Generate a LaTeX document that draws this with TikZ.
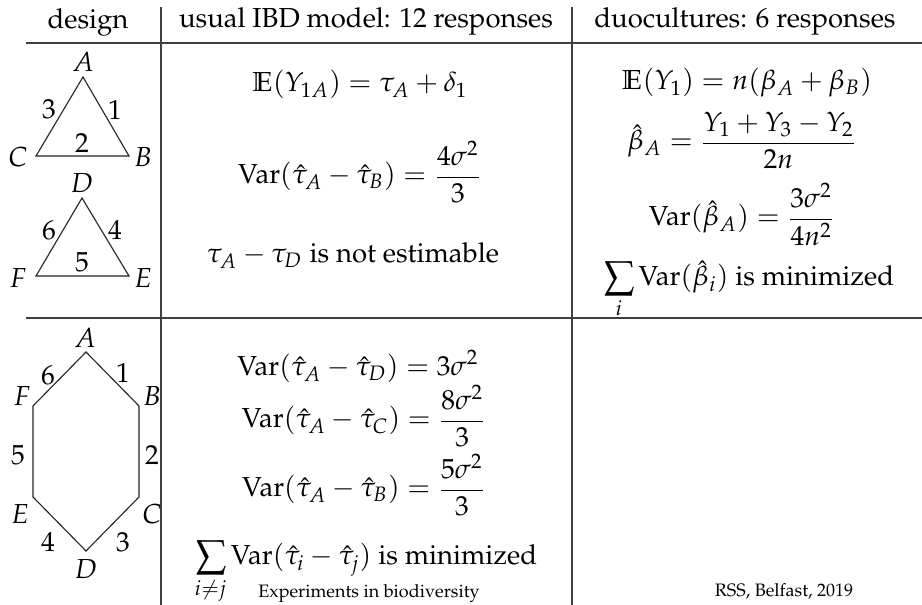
\documentclass[tikz,border=0pt]{standalone}
\usepackage[T1]{fontenc}
\usepackage{mathpazo}
\usepackage{amsmath}
\begin{document}
\begin{tikzpicture}[x=0.4pt,y=-0.4pt,
  txt/.style={inner sep=0pt, anchor=base, font=\fontsize{11}{13}\selectfont},
  lbl/.style={inner sep=0pt, anchor=center, font=\fontsize{11}{13}\selectfont},
  foot/.style={inner sep=0pt, anchor=base, font=\fontsize{7.2}{8}\selectfont},
  rule/.style={line width=0.5pt, black!75},
  outline/.style={line width=0.45pt, black!85, line join=miter}]
\useasboundingbox (0,0) rectangle (922,605);
\fill[white] (0,0) rectangle (922,605);
% table rules
\coordinate (h1l) at (26,43); \coordinate (h1r) at (922,43);
\coordinate (h2l) at (26,318); \coordinate (h2r) at (922,318);
\coordinate (v1t) at (161,7); \coordinate (v1b) at (161,605);
\coordinate (v2t) at (572,7); \coordinate (v2b) at (572,605);
\draw[rule] (h1l) -- (h1r);
\draw[rule] (h2l) -- (h2r);
\draw[rule] (v1t) -- (v1b);
\draw[rule] (v2t) -- (v2b);
% headers
\node[txt] (hd1) at (88,29) {design};
\node[txt] (hd2) at (366,28) {usual IBD model: 12 responses};
\node[txt] (hd3) at (745,28) {duocultures: 6 responses};
% triangle 1
\coordinate (tA) at (83,77); \coordinate (tB) at (129,156); \coordinate (tC) at (36,156);
\draw[outline] (tA) -- (tB) -- (tC) -- cycle;
\node[lbl] (lA) at (83,62) {$A$};
\node[lbl] (l3) at (49,109) {$3$};
\node[lbl] (l1) at (115,110) {$1$};
\node[lbl] (l2) at (82,143) {$2$};
\node[lbl] (lC) at (18,157) {$C$};
\node[lbl] (lB) at (143,157) {$B$};
% triangle 2
\coordinate (tD) at (82,198); \coordinate (tE) at (129,276); \coordinate (tF) at (36,276);
\draw[outline] (tD) -- (tE) -- (tF) -- cycle;
\node[lbl] (lD) at (82,183) {$D$};
\node[lbl] (l6) at (49,230) {$6$};
\node[lbl] (l4) at (115,230) {$4$};
\node[lbl] (l5) at (82,262) {$5$};
\node[lbl] (lF) at (18,278) {$F$};
\node[lbl] (lE) at (143,278) {$E$};
% hexagon
\coordinate (xA) at (86,352); \coordinate (xB) at (139,406); \coordinate (xC) at (139,497);
\coordinate (xD) at (86,551); \coordinate (xE) at (33,497); \coordinate (xF) at (33,406);
\draw[outline] (xA) -- (xB) -- (xC) -- (xD) -- (xE) -- (xF) -- cycle;
\node[lbl] (hA) at (85,338) {$A$};
\node[lbl] (h6) at (48,375) {$6$};
\node[lbl] (h1) at (123,373) {$1$};
\node[lbl] (hF) at (22,396) {$F$};
\node[lbl] (hB) at (152,396) {$B$};
\node[lbl] (h5) at (18,455) {$5$};
\node[lbl] (h2) at (152,455) {$2$};
\node[lbl] (hE) at (20,514) {$E$};
\node[lbl] (hC) at (152,514) {$C$};
\node[lbl] (h4) at (48,542) {$4$};
\node[lbl] (h3) at (123,542) {$3$};
\node[lbl] (hD) at (86,569) {$D$};
% column 2 top
\node[txt] (m1) at (360,92) {$\displaystyle \mathbb{E}(Y_{1A}) = \tau_A + \delta_1$};
\node[txt] (m2) at (360,184) {$\displaystyle \mathrm{Var}(\hat\tau_A - \hat\tau_B) = \frac{4\sigma^2}{3}$};
\node[txt] (m3) at (353,263) {$\tau_A - \tau_D$ is not estimable};
% column 3 top
\node[txt] (d1) at (747,90) {$\displaystyle \mathbb{E}(Y_1) = n(\beta_A + \beta_B)$};
\node[txt] (d2) at (742,150) {$\displaystyle \hat\beta_A = \frac{Y_1 + Y_3 - Y_2}{2n}$};
\node[txt] (d3) at (742,226) {$\displaystyle \mathrm{Var}(\hat\beta_A) = \frac{3\sigma^2}{4n^2}$};
\node[txt] (d4) at (749,286) {$\displaystyle \sum_i \mathrm{Var}(\hat\beta_i)$ is minimized};
% column 2 bottom
\node[txt] (b1) at (358,376) {$\displaystyle \mathrm{Var}(\hat\tau_A - \hat\tau_D) = 3\sigma^2$};
\node[txt] (b2) at (364,428) {$\displaystyle \mathrm{Var}(\hat\tau_A - \hat\tau_C) = \frac{8\sigma^2}{3}$};
\node[txt] (b3) at (364,497) {$\displaystyle \mathrm{Var}(\hat\tau_A - \hat\tau_B) = \frac{5\sigma^2}{3}$};
\node[txt] (b4) at (366,565) {$\displaystyle \sum_{i\neq j} \mathrm{Var}(\hat\tau_i - \hat\tau_j)$ is minimized};
% footer
\node[foot, anchor=base west] (f1) at (258,598) {Experiments in biodiversity};
\node[foot] (f2) at (784,597) {RSS, Belfast, 2019};
\end{tikzpicture}
\end{document}
